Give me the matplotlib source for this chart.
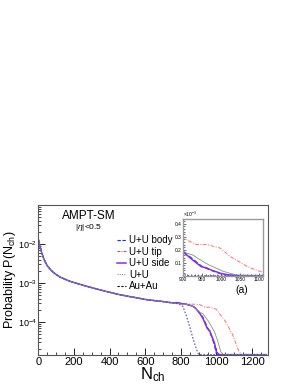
import numpy as np
import matplotlib
matplotlib.use('Agg')
import matplotlib.pyplot as plt
from matplotlib.lines import Line2D
from matplotlib.ticker import FixedLocator, MultipleLocator, FuncFormatter

plt.rcParams['font.family'] = ['Liberation Sans', 'DejaVu Sans']
plt.rcParams['mathtext.fontset'] = 'custom'
plt.rcParams['mathtext.rm'] = 'Liberation Sans'
plt.rcParams['mathtext.it'] = 'Liberation Sans:italic'

# shared low-multiplicity part (all systems overlap)
common_nch = [2, 10, 20, 30, 40, 50, 65, 80, 100, 125, 150, 175, 200, 250, 300,
              350, 400, 450, 500, 550, 600, 650, 700, 740]
common_p = [1.25e-2, 8.5e-3, 5.8e-3, 4.3e-3, 3.4e-3, 2.8e-3, 2.3e-3, 1.95e-3,
            1.65e-3, 1.4e-3, 1.25e-3, 1.12e-3, 1.03e-3, 8.8e-4, 7.6e-4, 6.6e-4,
            5.8e-4, 5.1e-4, 4.6e-4, 4.2e-4, 3.8e-4, 3.55e-4, 3.35e-4, 3.15e-4]

# high-multiplicity tails
body_nch = [760, 780, 800, 830, 850, 870, 885, 900, 909, 925, 948, 962, 975, 989,
            1000, 1016, 1030, 1045, 1280]
body_p = [3.1e-4, 3.1e-4, 3.0e-4, 2.85e-4, 2.7e-4, 2.5e-4, 2.25e-4, 1.85e-4,
          1.65e-4, 1.3e-4, 0.75e-4, 0.55e-4, 0.4e-4, 0.25e-4, 0.15e-4, 0.06e-4,
          0.02e-4, 0.0, 0.0]

tip_nch = [760, 800, 850, 880, 907, 935, 962, 998, 1025, 1050, 1071, 1090, 1107,
           1125, 1141, 1160, 1280]
tip_p = [3.1e-4, 2.95e-4, 2.9e-4, 2.85e-4, 2.79e-4, 2.4e-4, 2.4e-4, 2.13e-4,
         1.47e-4, 1.05e-4, 0.69e-4, 0.48e-4, 0.3e-4, 0.18e-4, 0.12e-4, 0.05e-4, 0.0]

side_nch = [760, 780, 800, 830, 850, 870, 885, 900, 909, 925, 948, 962, 975, 989,
            1000, 1016, 1030, 1045, 1280]
side_p = [3.1e-4, 3.15e-4, 3.0e-4, 2.85e-4, 2.7e-4, 2.5e-4, 2.2e-4, 1.8e-4,
          1.6e-4, 1.21e-4, 0.69e-4, 0.6e-4, 0.42e-4, 0.29e-4, 0.17e-4, 0.08e-4,
          0.03e-4, 0.0, 0.0]

uu_nch = [760, 800, 850, 880, 900, 909, 925, 953, 970, 989, 1005, 1025, 1040,
          1053, 1280]
uu_p = [3.1e-4, 2.9e-4, 2.75e-4, 2.3e-4, 1.9e-4, 1.74e-4, 1.6e-4, 1.08e-4,
        0.8e-4, 0.56e-4, 0.35e-4, 0.17e-4, 0.08e-4, 0.03e-4, 0.0]

auau_nch = [760, 790, 812, 832, 850, 869, 888, 900, 910, 1280]
auau_p = [3.05e-4, 2.9e-4, 2.5e-4, 1.4e-4, 7.5e-5, 3.7e-5, 2.0e-5, 1.2e-5, 0.0, 0.0]

labels = ['U+U body', 'U+U tip', 'U+U side', 'U+U', 'Au+Au']

YMIN, YMAX = 1.43e-5, 0.1

fig = plt.figure(figsize=(2.98, 3.85), dpi=100)
ax = fig.add_axes([0.1285, 0.078, 0.77, 0.3895])

styles = [
    dict(color='#2020ff', ls=(0, (4, 2)), lw=0.8),
    dict(color='#ff3030', ls=(0, (4, 1.5, 1, 1.5)), lw=0.7, alpha=0.7),
    dict(color='#8a2be2', ls='-', lw=1.1),
    dict(color='#7a9a7a', ls='-', lw=0.6),
    dict(color='#5050d0', ls=(0, (1.5, 1.5)), lw=0.8),
]
tails = [(body_nch, body_p), (tip_nch, tip_p), (side_nch, side_p),
         (uu_nch, uu_p), (auau_nch, auau_p)]

curves = []
for (tn, tp), st in zip(tails, styles):
    x = np.array(common_nch + tn, dtype=float)
    y = np.array(common_p + tp, dtype=float)
    curves.append((x, y))
    ax.plot(x, np.clip(y, YMIN * 1.02, None), **st)

ax.set_yscale('log')
ax.set_xlim(0, 1288)
ax.set_ylim(YMIN, YMAX)
ax.xaxis.set_major_locator(MultipleLocator(200))
ax.xaxis.set_minor_locator(MultipleLocator(50))
ax.yaxis.set_major_locator(FixedLocator([1e-4, 1e-3, 1e-2]))
ax.yaxis.set_major_formatter(FuncFormatter(
    lambda v, p: r'$10^{%d}$' % int(round(np.log10(v)))))
ax.tick_params(which='both', direction='in', top=False, right=False)
ax.tick_params(which='major', length=5, width=0.6, labelsize=8, pad=1.5)
ax.tick_params(which='minor', length=2.5, width=0.5)
ax.tick_params(axis='y', labelsize=6.5, pad=1)
for s in ax.spines.values():
    s.set_linewidth(0.8)
    s.set_color('#555555')

ax.set_xlabel(r'N$_{\rm ch}$', fontsize=12, labelpad=-1)
ax.set_ylabel(r'Probability P(N$_{\rm ch}$)', fontsize=9, labelpad=0)

ax.text(0.22, 0.93, 'AMPT-SM', transform=ax.transAxes, fontsize=8.5,
        ha='center', va='center')
ax.text(0.22, 0.85, r'|$\eta$|<0.5', transform=ax.transAxes, fontsize=6,
        ha='center', va='center')

handles = [Line2D([], [], color='#2020ff', ls=(0, (3, 1.5)), lw=0.8),
           Line2D([], [], color='#ff3030', ls=(0, (3, 1.2, 1, 1.2)), lw=0.7),
           Line2D([], [], color='#8a2be2', ls='-', lw=1.1),
           Line2D([], [], color='#7a9a7a', ls=(0, (1, 1)), lw=0.8),
           Line2D([], [], color='black', ls=(0, (2, 1.5)), lw=0.8)]
ax.legend(handles, labels, loc='upper left', bbox_to_anchor=(0.32, 0.83),
          frameon=False, fontsize=7, handlelength=1.0, handletextpad=0.3,
          labelspacing=0.15, borderpad=0)

# inset
ins = fig.add_axes([0.615, 0.284, 0.269, 0.146])
for (x, y), st in zip(curves, styles):
    ins.plot(x, y * 1e3, **st)
ins.set_xlim(900, 1113)
ins.set_ylim(0, 0.434)
ins.xaxis.set_major_locator(MultipleLocator(50))
ins.xaxis.set_minor_locator(MultipleLocator(10))
ins.yaxis.set_major_locator(FixedLocator([0.1, 0.2, 0.3, 0.4]))
ins.yaxis.set_minor_locator(MultipleLocator(0.02))
ins.tick_params(which='both', direction='in', labelsize=3.5, pad=1)
ins.tick_params(which='major', length=2.5, width=0.4)
ins.tick_params(which='minor', length=1.2, width=0.4)
for s in ins.spines.values():
    s.set_linewidth(1.0)
    s.set_color('#999999')
ins.text(0.0, 1.01, r'$\times10^{-3}$', transform=ins.transAxes, fontsize=3.5,
         ha='left', va='bottom')
fig.text(0.81, 0.248, '(a)', fontsize=7.5, ha='center', va='center')

fig.savefig('out.png', dpi=100)
